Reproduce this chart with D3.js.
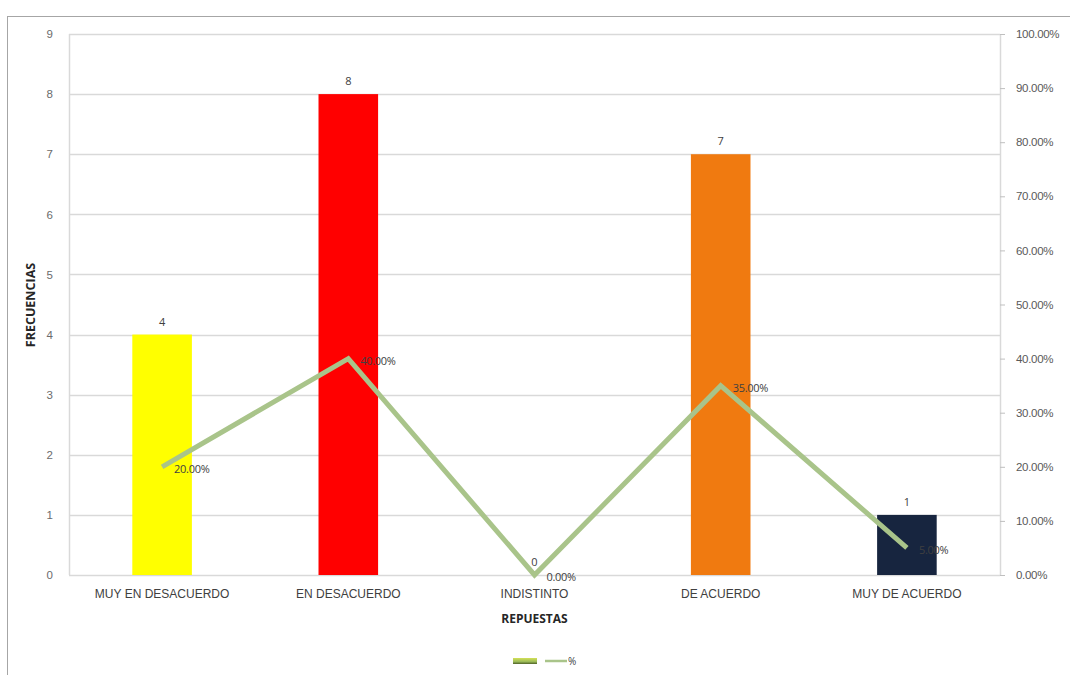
<!DOCTYPE html>
<html><head><meta charset="utf-8">
<script src="https://cdn.jsdelivr.net/npm/d3@7"></script>
<style>body{margin:0;background:#fff;} svg{display:block;font-family:"Open Sans","Liberation Sans",sans-serif;}</style>
</head><body>
<svg id="c" width="1070" height="675"></svg>
<script>
const categories = ["MUY EN DESACUERDO","EN DESACUERDO","INDISTINTO","DE ACUERDO","MUY DE ACUERDO"];
const frequencies = [4,8,0,7,1];
const percents = [0.20,0.40,0.00,0.35,0.05];
const barColors = ["#ffff00","#ff0000","#7f7f7f","#f07a10","#17253f"];
const leftTicks = [0,1,2,3,4,5,6,7,8,9];
const rightTicks = [0,0.1,0.2,0.3,0.4,0.5,0.6,0.7,0.8,0.9,1.0];

const svg = d3.select("#c");
const m = {l:69, r:1000, t:34, b:575};
const x = d3.scaleBand().domain(categories).range([m.l,m.r]).paddingInner(0.68).paddingOuter(0.34);
const y = d3.scaleLinear().domain([0,9]).range([m.b,m.t]);
const y2 = d3.scaleLinear().domain([0,1]).range([m.b,m.t]);

// outer frame
svg.append("line").attr("x1",7).attr("x2",1070).attr("y1",16.5).attr("y2",16.5).attr("stroke","#a6a6a6");
svg.append("line").attr("x1",7.5).attr("x2",7.5).attr("y1",16).attr("y2",675).attr("stroke","#a6a6a6");

// gridlines
svg.append("g").selectAll("line").data(leftTicks).join("line")
  .attr("x1",m.l).attr("x2",m.r).attr("y1",d=>Math.round(y(d))+0.5).attr("y2",d=>Math.round(y(d))+0.5)
  .attr("stroke","#d9d9d9").attr("stroke-width",1.5);
svg.append("line").attr("x1",m.l+0.5).attr("x2",m.l+0.5).attr("y1",m.t).attr("y2",m.b).attr("stroke","#d9d9d9").attr("stroke-width",1.5);
svg.append("line").attr("x1",m.r+0.5).attr("x2",m.r+0.5).attr("y1",m.t).attr("y2",m.b).attr("stroke","#d9d9d9").attr("stroke-width",1.5);

// left axis
const la = svg.append("g").attr("transform",`translate(${m.l},0)`)
  .call(d3.axisLeft(y).tickValues(leftTicks).tickSize(0).tickPadding(16).tickFormat(d3.format("d")));
la.select(".domain").remove();
la.selectAll("text").attr("font-size",11.5).attr("fill","#6b6b6b");

// right axis
const ra = svg.append("g").attr("transform",`translate(${m.r},0)`)
  .call(d3.axisRight(y2).tickValues(rightTicks).tickSize(5).tickPadding(11).tickFormat(d3.format(".2%")));
ra.select(".domain").remove();
ra.selectAll("line").attr("stroke","#bfbfbf");
ra.selectAll("text").attr("font-size",11.5).attr("fill","#595959").attr("letter-spacing","-0.3");

// bottom axis labels
const ba = svg.append("g").attr("transform",`translate(0,${m.b})`)
  .call(d3.axisBottom(x).tickSize(0).tickPadding(14));
ba.select(".domain").remove();
ba.selectAll("text").attr("font-size",12).attr("fill","#404040");

// bars
svg.append("g").selectAll("rect").data(frequencies).join("rect")
  .attr("x",(d,i)=>x(categories[i])).attr("width",x.bandwidth())
  .attr("y",d=>y(d)).attr("height",d=>y(0)-y(d))
  .attr("fill",(d,i)=>barColors[i]);

// bar labels
svg.append("g").selectAll("text").data(frequencies).join("text")
  .attr("x",(d,i)=>x(categories[i])+x.bandwidth()/2).attr("y",d=>y(d)-9)
  .attr("text-anchor","middle").attr("font-size",11).attr("fill","#404040").text(d=>d);

// line
const cx = (i)=>x(categories[i])+x.bandwidth()/2;
svg.append("path").datum(percents)
  .attr("d",d3.line().x((d,i)=>cx(i)).y(d=>y2(d)))
  .attr("fill","none").attr("stroke","#a9c48a").attr("stroke-width",5).attr("stroke-linejoin","miter");

// line labels
svg.append("g").selectAll("text").data(percents).join("text")
  .attr("x",(d,i)=>cx(i)+12).attr("y",d=>y2(d)+6)
  .attr("font-size",11).attr("fill","#404040").attr("letter-spacing","-0.3").text(d=>d3.format(".2%")(d));

// axis titles
svg.append("text").attr("x",(m.l+m.r)/2).attr("y",623).attr("text-anchor","middle")
  .attr("font-size",12).attr("font-weight","bold").attr("fill","#262626").text("REPUESTAS");
svg.append("text").attr("transform","translate(35,305) rotate(-90)").attr("text-anchor","middle")
  .attr("font-size",12.5).attr("font-weight","bold").attr("fill","#262626").text("FRECUENCIAS");

// legend
const grad = svg.append("defs").append("linearGradient").attr("id","lg").attr("x1",0).attr("x2",0).attr("y1",0).attr("y2",1);
grad.append("stop").attr("offset","0%").attr("stop-color","#d4e157");
grad.append("stop").attr("offset","60%").attr("stop-color","#9bbb59");
grad.append("stop").attr("offset","100%").attr("stop-color","#4f6228");
svg.append("rect").attr("x",513).attr("y",658).attr("width",24).attr("height",6).attr("fill","url(#lg)");
svg.append("line").attr("x1",545).attr("x2",567).attr("y1",661).attr("y2",661).attr("stroke","#a9c48a").attr("stroke-width",2.5);
svg.append("text").attr("x",568).attr("y",665).attr("font-size",10).attr("fill","#404040").text("%");
</script>
</body></html>
